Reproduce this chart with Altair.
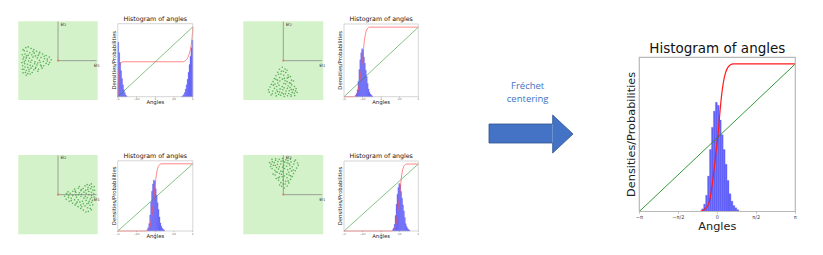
import math
import altair as alt
import pandas as pd

PI = math.pi

# ---------------- values ----------------
N_BINS = 80          # histogram bins over [-pi, pi]
Y_MAX = 1.045        # top of the y range (CDF reaches 1)

tick_values = [-PI, -PI / 2, 0.0, PI / 2, PI]
tick_labels = ["−π", "−π/2", "0", "π/2", "π"]

# histogram heights: (first bin index, heights)
hist_tl = [(0, [0.78, 0.63, 0.49, 0.37, 0.26, 0.17, 0.10, 0.055, 0.025, 0.01]),
           (68, [0.005, 0.015, 0.03, 0.06, 0.11, 0.17, 0.25, 0.35, 0.46, 0.58, 0.70, 0.81])]
hist_tr = [(12, [0.017, 0.045, 0.10, 0.22, 0.39, 0.53, 0.63, 0.69, 0.67, 0.57, 0.48,
                 0.38, 0.29, 0.19, 0.11, 0.065, 0.038, 0.022, 0.01])]
hist_bl = [(31, [0.019, 0.05, 0.11, 0.24, 0.43, 0.59, 0.70, 0.76, 0.74, 0.63, 0.53,
                 0.42, 0.32, 0.21, 0.12, 0.07, 0.04, 0.025, 0.012])]
hist_br = [(52, [0.017, 0.046, 0.10, 0.23, 0.40, 0.55, 0.65, 0.71, 0.69, 0.59, 0.49,
                 0.39, 0.30, 0.20, 0.11, 0.066, 0.038, 0.023, 0.011])]
hist_big = [(32, [0.018, 0.05, 0.11, 0.24, 0.42, 0.57, 0.68, 0.74, 0.72, 0.62, 0.52,
                  0.42, 0.32, 0.21, 0.12, 0.07, 0.04, 0.025, 0.012])]

# red cumulative curves
cdf_y_common = [0, 0, 0.01, 0.025, 0.05, 0.13, 0.23, 0.36, 0.48, 0.54, 0.66, 0.79,
                0.88, 0.94, 0.975, 0.993, 1.0, 1.0]
cdf_big_x = [-PI, -0.7, -0.55, -0.45, -0.35, -0.25, -0.17, -0.08, 0.0, 0.04, 0.1, 0.175,
             0.25, 0.33, 0.42, 0.52, 0.65, PI]
cdf_tr_x = [-PI, -2.35, -2.2, -2.1, -2.0, -1.9, -1.8, -1.7, -1.62, -1.55, -1.5, -1.43,
            -1.35, -1.27, -1.18, -1.08, -0.95, PI]
cdf_bl_x = [-PI, -0.82, -0.67, -0.57, -0.47, -0.37, -0.29, -0.2, -0.12, -0.08, -0.02,
            0.055, 0.13, 0.21, 0.3, 0.4, 0.53, PI]
cdf_br_x = [-PI, 0.83, 0.98, 1.08, 1.18, 1.28, 1.36, 1.45, 1.53, 1.57, 1.63, 1.705,
            1.78, 1.86, 1.95, 2.05, 2.18, PI]
cdf_tl_x = [-PI, -3.11, -3.07, -3.02, -2.95, -2.85, -2.7, -2.5, 2.35, 2.55, 2.7, 2.82,
            2.92, 3.0, 3.06, 3.1, PI]
cdf_tl_y = [0, 0.16, 0.3, 0.4, 0.46, 0.49, 0.5, 0.5, 0.5, 0.52, 0.55, 0.6, 0.66, 0.73,
            0.81, 0.88, 1.0]

# point cloud (radial, lateral) and the rotation of each small panel
cloud = [(0.17, -0.02), (0.21, 0.05), (0.22, -0.09), (0.27, 0.01), (0.24, 0.10),
         (0.30, -0.13), (0.34, -0.05), (0.30, 0.07), (0.36, 0.13), (0.27, -0.04),
         (0.39, -0.17), (0.43, -0.08), (0.37, 0.02), (0.44, 0.11), (0.40, 0.19),
         (0.35, -0.11), (0.46, -0.21), (0.50, -0.13), (0.47, -0.01), (0.51, 0.06),
         (0.42, 0.14), (0.49, 0.22), (0.45, 0.04), (0.54, -0.24), (0.57, -0.12),
         (0.52, -0.07), (0.58, 0.03), (0.53, 0.11), (0.56, 0.17), (0.51, 0.27),
         (0.48, -0.17), (0.61, -0.28), (0.60, -0.19), (0.63, -0.09), (0.66, -0.01),
         (0.59, 0.08), (0.64, 0.14), (0.61, 0.23), (0.65, 0.30), (0.57, 0.20),
         (0.68, -0.31), (0.71, -0.20), (0.66, -0.15), (0.72, -0.06), (0.69, 0.04),
         (0.70, 0.12), (0.68, 0.19), (0.73, 0.27), (0.70, 0.34), (0.63, -0.23),
         (0.75, -0.35), (0.78, -0.24), (0.75, -0.14), (0.80, -0.07), (0.74, 0.01),
         (0.77, 0.09), (0.76, 0.17), (0.80, 0.25), (0.76, 0.33), (0.73, 0.22),
         (0.81, -0.33), (0.85, -0.25), (0.83, -0.17), (0.86, -0.09), (0.82, -0.01),
         (0.84, 0.08), (0.83, 0.16), (0.86, 0.22), (0.82, 0.30), (0.80, 0.37),
         (0.79, -0.12), (0.88, -0.28), (0.90, -0.15), (0.88, -0.04), (0.91, 0.05),
         (0.89, 0.13), (0.90, 0.22), (0.88, 0.31), (0.85, 0.03)]
angle_tl, angle_tr, angle_bl, angle_br = PI, -1.6, -0.12, 1.54

frechet_lines = ["Fréchet", "centering"]

# arrow outline, in the arrow panel's own [0, 1] x [0, 1] frame
arrow_x = [0.0, 0.758, 0.758, 1.0, 0.758, 0.758, 0.0, 0.0]
arrow_y = [0.263, 0.263, 0.0, 0.5, 1.0, 0.763, 0.763, 0.263]

# ---------------- layout (view pixels) ----------------
W, H = 807, 239
FONT = "DejaVu Sans"
BLUE = "#6262f8"
RED = "#ff1a1a"
GREEN = "#1f8f1f"
FRAME = "#b8b8b8"
BW = 2 * PI / N_BINS


def hist_panel(hist, cdf_x, cdf_y, box, big):
    x0, x1, yb, yt = box
    if big:
        fs_title, fs_lab, fs_tick, tsize, lw_r, lw_g, fw = 13.5, 11.3, 5, 2.5, 1.2, 0.9, 1.2
        ty_x, tx_y, title_dy, red = 18.2, -4.0, -4.8, RED
    else:
        fs_title, fs_lab, fs_tick, tsize, lw_r, lw_g, fw = 6.3, 5.3, 2.4, 1.2, 0.7, 0.55, 0.6
        ty_x, tx_y, title_dy, red = 7.4, -1.8, -3.0, "#ff5555"
    xs = alt.Scale(domain=[-PI, PI], range=[x0, x1], nice=False, zero=False)
    ys = alt.Scale(domain=[0, Y_MAX], range=[yb, yt], nice=False, zero=False)
    X = lambda f: alt.X(f, scale=xs, axis=None)
    Y = lambda f: alt.Y(f, scale=ys, axis=None)
    rows = []
    for start, heights in hist:
        for i, h in enumerate(heights):
            k = start + i
            rows.append({"a": -PI + k * BW, "b": -PI + (k + 1) * BW, "z": 0.0, "h": h})
    bars = alt.Chart(pd.DataFrame(rows)).mark_rect(
        color=BLUE, stroke=BLUE, strokeWidth=0.3).encode(
        x=X("a:Q"), x2="b:Q", y=Y("z:Q"), y2="h:Q")
    diag = alt.Chart(pd.DataFrame({"x": [-PI, PI], "y": [0.0, 1.0]})).mark_line(
        color=GREEN, strokeWidth=lw_g).encode(x=X("x:Q"), y=Y("y:Q"))
    cdf = alt.Chart(pd.DataFrame({"x": cdf_x, "y": cdf_y})).mark_line(
        color=red, strokeWidth=lw_r, interpolate="monotone").encode(x=X("x:Q"), y=Y("y:Q"))
    frame = alt.Chart(pd.DataFrame({"a": [-PI], "b": [PI], "z": [0.0], "t": [Y_MAX]})).mark_rect(
        fillOpacity=0, stroke=FRAME, strokeWidth=fw).encode(
        x=X("a:Q"), x2="b:Q", y=Y("z:Q"), y2="t:Q")
    tick_df = pd.DataFrame({"x": tick_values, "z": [0.0] * len(tick_values), "lab": tick_labels})
    ticks = alt.Chart(tick_df).mark_tick(
        orient="vertical", size=tsize, thickness=0.6, color="#888", yOffset=tsize / 2).encode(
        x=X("x:Q"), y=Y("z:Q"))
    tick_text = alt.Chart(tick_df).mark_text(
        font=FONT, fontSize=fs_tick, color="#444", baseline="top", align="center",
        dy=tsize + 0.8).encode(x=X("x:Q"), y=Y("z:Q"), text="lab:N")
    title = alt.Chart(pd.DataFrame({"x": [0.0], "y": [Y_MAX], "t": ["Histogram of angles"]})).mark_text(
        font=FONT, fontSize=fs_title, baseline="alphabetic", align="center", dy=title_dy,
        color="#111").encode(x=X("x:Q"), y=Y("y:Q"), text="t:N")
    xlab = alt.Chart(pd.DataFrame({"x": [0.0], "y": [0.0], "t": ["Angles"]})).mark_text(
        font=FONT, fontSize=fs_lab, baseline="alphabetic", align="center", dy=ty_x,
        color="#222").encode(x=X("x:Q"), y=Y("y:Q"), text="t:N")
    ylab = alt.Chart(pd.DataFrame({"x": [-PI], "y": [Y_MAX / 2], "t": ["Densities/Probabilities"]})).mark_text(
        font=FONT, fontSize=fs_lab, baseline="alphabetic", align="center", angle=270, dy=tx_y,
        color="#222").encode(x=X("x:Q"), y=Y("y:Q"), text="t:N")
    return alt.layer(bars, diag, cdf, frame, ticks, tick_text, title, xlab, ylab)


def green_panel(angle, box):
    x0, x1, yb, yt = box
    xs = alt.Scale(domain=[-1, 1], range=[x0, x1], nice=False, zero=False)
    ys = alt.Scale(domain=[-1, 1], range=[yb, yt], nice=False, zero=False)
    X = lambda f: alt.X(f, scale=xs, axis=None)
    Y = lambda f: alt.Y(f, scale=ys, axis=None)
    bg = alt.Chart(pd.DataFrame({"a": [-1], "b": [1], "c": [-1], "d": [1]})).mark_rect(
        color="#d4f2c9").encode(x=X("a:Q"), x2="b:Q", y=Y("c:Q"), y2="d:Q")
    axes = alt.Chart(pd.DataFrame({"a": [0, 0], "b": [0.97, 0], "c": [0, 0], "d": [0, 0.99]})).mark_rule(
        color="#8a8a8a", strokeWidth=0.8).encode(x=X("a:Q"), x2="b:Q", y=Y("c:Q"), y2="d:Q")
    c, s = math.cos(angle), math.sin(angle)
    pts = pd.DataFrame({"x": [p[0] * c - p[1] * s for p in cloud],
                        "y": [p[0] * s + p[1] * c for p in cloud]})
    dots = alt.Chart(pts).mark_circle(size=2.6, color="#3c9d3c", opacity=0.8).encode(
        x=X("x:Q"), y=Y("y:Q"))
    origin = alt.Chart(pd.DataFrame({"x": [0], "y": [0]})).mark_circle(
        size=5, color="#e07b39").encode(x=X("x:Q"), y=Y("y:Q"))
    labels = alt.Chart(pd.DataFrame({"x": [0.9, 0.06], "y": [-0.1, 0.94], "t": ["e₁", "e₂"]})).mark_text(
        font=FONT, fontSize=6, color="#555", align="left", baseline="middle").encode(
        x=X("x:Q"), y=Y("y:Q"), text="t:N")
    return alt.layer(bg, axes, dots, origin, labels)


def arrow_panel(box):
    x0, x1, yb, yt = box
    xs = alt.Scale(domain=[0, 1], range=[x0, x1], nice=False, zero=False)
    ys = alt.Scale(domain=[0, 1], range=[yb, yt], nice=False, zero=False)
    X = lambda f: alt.X(f, scale=xs, axis=None)
    Y = lambda f: alt.Y(f, scale=ys, axis=None)
    shaft = alt.Chart(pd.DataFrame({"a": [arrow_x[0]], "b": [arrow_x[1]],
                                    "c": [arrow_y[0]], "d": [arrow_y[5]]})).mark_rect(
        color="#4472c4").encode(x=X("a:Q"), x2="b:Q", y=Y("c:Q"), y2="d:Q")
    head = alt.Chart(pd.DataFrame({"x": [arrow_x[2], arrow_x[3]], "lo": [arrow_y[2], arrow_y[3]],
                                   "hi": [arrow_y[4], arrow_y[3]]})).mark_area(
        color="#4472c4", opacity=1).encode(x=X("x:Q"), y=Y("lo:Q"), y2="hi:Q")
    outline = alt.Chart(pd.DataFrame({"i": list(range(len(arrow_x))), "x": arrow_x, "y": arrow_y})).mark_line(
        color="#2f528f", strokeWidth=0.8).encode(x=X("x:Q"), y=Y("y:Q"), order="i:Q")
    txt = alt.Chart(pd.DataFrame({"x": [0.46, 0.46], "y": [1.76, 1.43], "t": frechet_lines})).mark_text(
        font="Open Sans", fontSize=9.5, color="#4472c4", align="center", baseline="middle").encode(
        x=X("x:Q"), y=Y("y:Q"), text="t:N")
    return alt.layer(shaft, head, outline, txt)


panels = [
    green_panel(angle_tl, (10.3, 89.7, 92.0, 13.3)),
    hist_panel(hist_tl, cdf_tl_x, cdf_tl_y, (109.8, 184.8, 88.7, 15.7), False),
    green_panel(angle_tr, (235.3, 315.3, 92.0, 13.3)),
    hist_panel(hist_tr, cdf_tr_x, cdf_y_common, (336.0, 410.3, 88.7, 16.0), False),
    green_panel(angle_bl, (10.3, 89.7, 226.3, 147.0)),
    hist_panel(hist_bl, cdf_bl_x, cdf_y_common, (109.8, 184.8, 223.0, 152.8), False),
    green_panel(angle_br, (235.3, 315.3, 226.3, 147.0)),
    hist_panel(hist_br, cdf_br_x, cdf_y_common, (336.0, 410.3, 223.0, 153.0), False),
    arrow_panel((481, 565, 145, 107)),
    hist_panel(hist_big, cdf_big_x, cdf_y_common, (631.3, 787.3, 203.5, 49.3), True),
]

chart = alt.layer(*panels).resolve_scale(x="independent", y="independent").properties(
    width=W, height=H, autosize=alt.AutoSizeParams(type="none"), padding=0,
    background="white",
).configure_view(stroke="transparent", strokeWidth=0)

chart.save("out.html", embed_options={"renderer": "svg", "actions": False})
